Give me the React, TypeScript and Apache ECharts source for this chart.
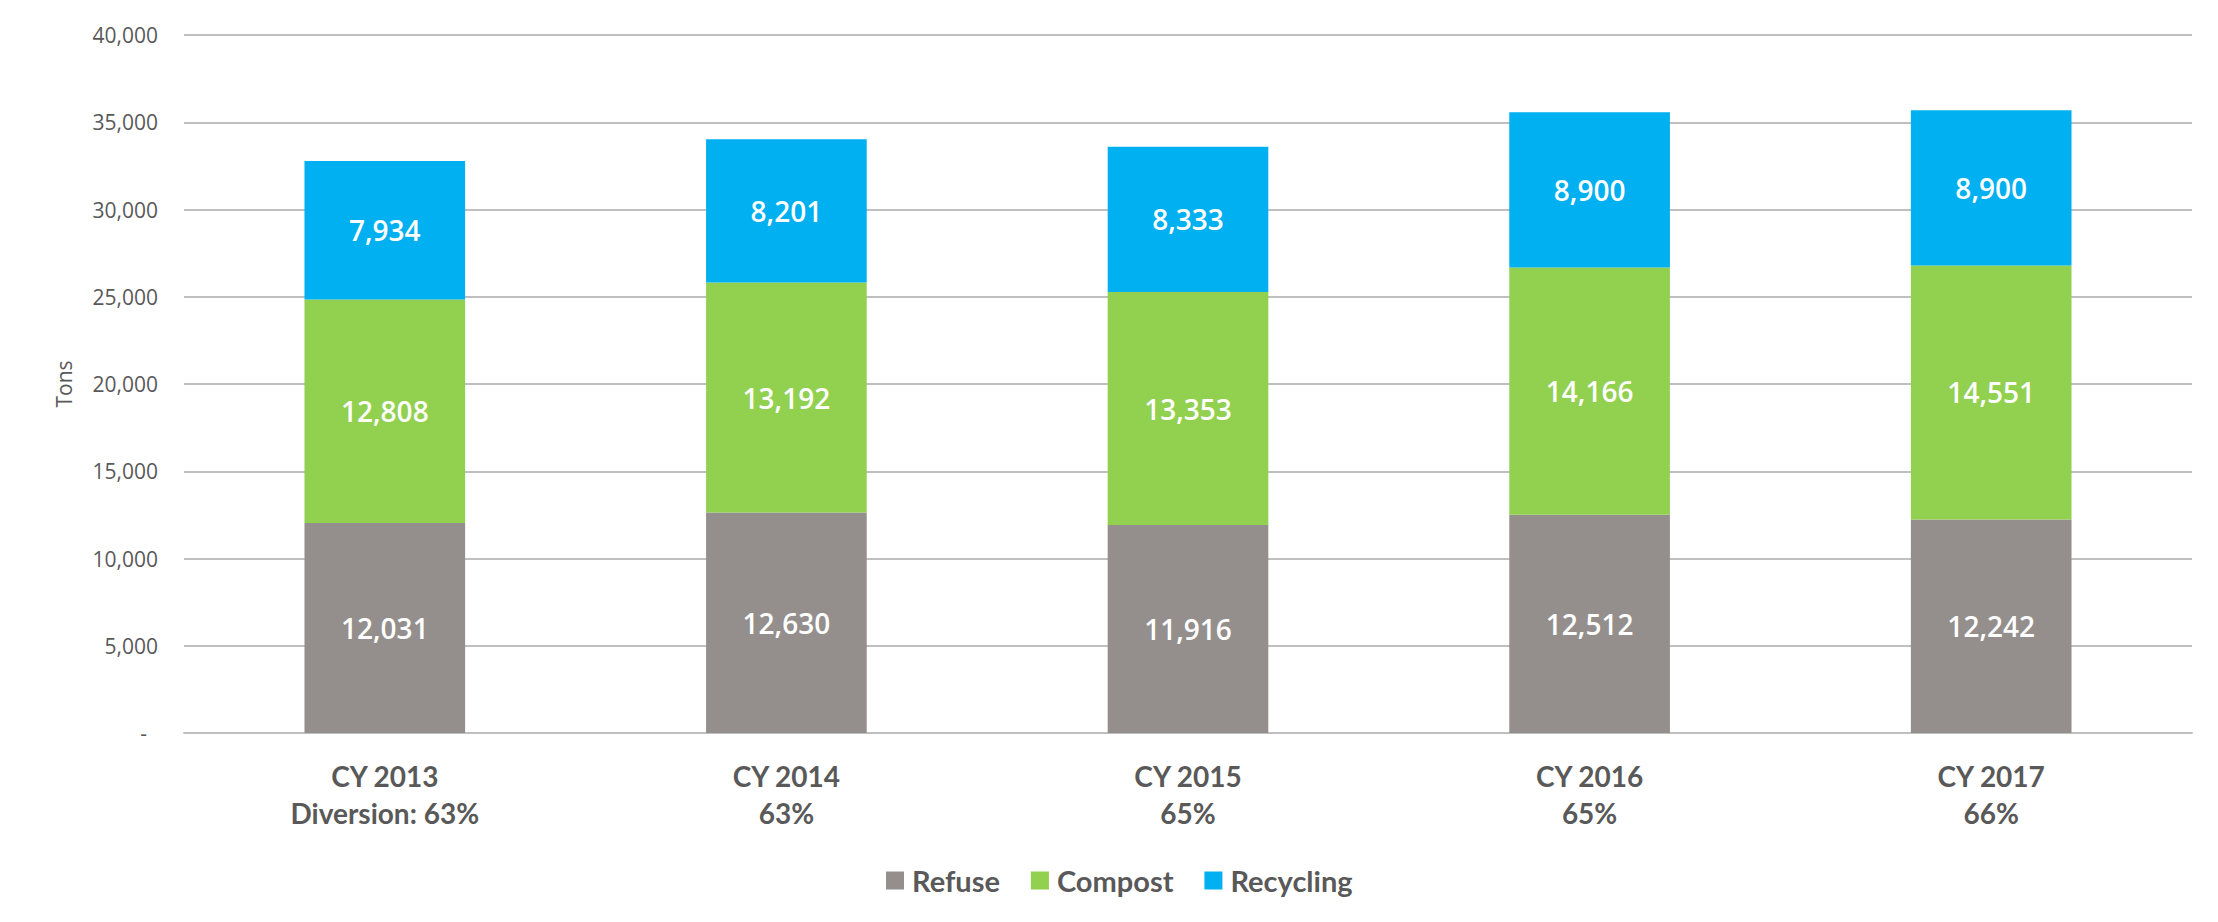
import React, { useEffect, useRef } from "react";
import * as echarts from "echarts";

const years = ["CY 2013", "CY 2014", "CY 2015", "CY 2016", "CY 2017"];
const diversion = ["Diversion: 63%", "63%", "65%", "65%", "66%"];
const refuse = [12031, 12630, 11916, 12512, 12242];
const compost = [12808, 13192, 13353, 14166, 14551];
const recycling = [7934, 8201, 8333, 8900, 8900];
const seriesNames = ["Refuse", "Compost", "Recycling"];
const colors = ["#948F8D", "#92D050", "#00B0F0"];
const yTicks = { min: 0, max: 40000, interval: 5000 };

const fmt = (v: number) => v.toLocaleString("en-US");

export default function App() {
  const ref = useRef<HTMLDivElement>(null);
  useEffect(() => {
    if (!ref.current) return;
    const chart = echarts.init(ref.current, undefined, { renderer: "svg" });
    const categories = years.map((y, i) => `${y}\n${diversion[i]}`);
    const values = [refuse, compost, recycling];
    chart.setOption({
      animation: false,
      backgroundColor: "#ffffff",
      color: colors,
      grid: { left: 184, right: 26, top: 35, bottom: 189 },
      legend: {
        data: seriesNames,
        left: 886,
        top: 866,
        padding: 0,
        itemWidth: 18,
        itemHeight: 18,
        itemGap: 31,
        icon: "rect",
        textStyle: {
          fontFamily: "Lato",
          fontWeight: "bold",
          fontSize: 29,
          color: "#595959",
          padding: [0, 0, 0, 3],
        },
      },
      xAxis: {
        type: "category",
        data: categories,
        axisLine: { show: true, lineStyle: { color: "#BFBFBF", width: 2 } },
        axisTick: { show: false },
        axisLabel: {
          margin: 24,
          lineHeight: 37,
          fontFamily: "Lato",
          fontWeight: "bold",
          fontSize: 28,
          color: "#595959",
        },
      },
      yAxis: {
        type: "value",
        min: yTicks.min,
        max: yTicks.max,
        interval: yTicks.interval,
        name: "Tons",
        nameLocation: "middle",
        nameGap: 110,
        nameTextStyle: { fontFamily: "Open Sans", fontSize: 21, color: "#595959" },
        axisLine: { show: false },
        axisTick: { show: false },
        splitLine: { lineStyle: { color: "#BFBFBF", width: 2 } },
        axisLabel: {
          margin: 26,
          fontFamily: "Open Sans",
          fontSize: 21,
          color: "#595959",
          formatter: (v: number) => (v === 0 ? "{d|-}" : fmt(v)),
          rich: {
            d: { fontFamily: "Open Sans", fontSize: 21, color: "#595959", padding: [0, 11, 0, 0] },
          },
        },
      },
      series: seriesNames.map((name, i) => ({
        name,
        type: "bar",
        stack: "total",
        barWidth: "40%",
        data: values[i],
        itemStyle: { color: colors[i] },
        label: {
          show: true,
          position: "inside",
          color: "#ffffff",
          fontFamily: "Open Sans",
          fontWeight: 600,
          fontSize: 28,
          formatter: (p: any) => fmt(p.value),
        },
      })),
    });
    return () => chart.dispose();
  }, []);
  return (
    <div
      ref={ref}
      style={{ position: "fixed", left: 0, top: 0, width: 2218, height: 922 }}
    />
  );
}
